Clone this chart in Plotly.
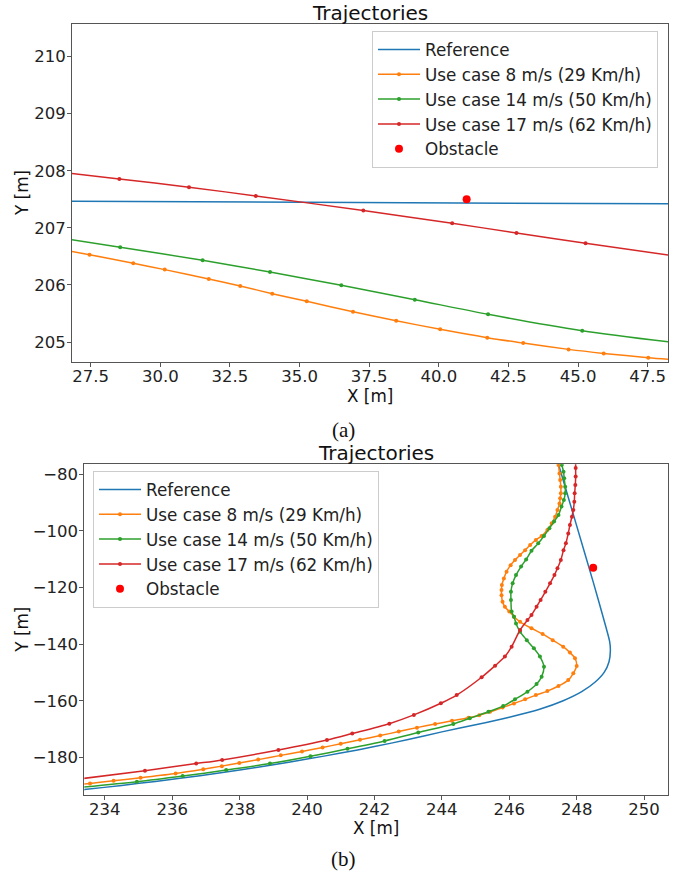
import plotly.graph_objects as go

# ---------------- (a) data ----------------
ref_a_x = [26.0, 49.0]
ref_a_y = [207.467, 207.418]

uc8_a_x = [26.5, 27.46, 29.03, 30.16, 31.74, 32.87, 34.02, 35.26, 36.92, 38.47, 40.05, 41.74, 43.03, 44.66, 45.92, 47.52, 48.7]
uc8_a_y = [206.615, 206.530, 206.379, 206.268, 206.104, 205.981, 205.847, 205.713, 205.531, 205.374, 205.222, 205.076, 204.982, 204.871, 204.801, 204.725, 204.680]

uc14_a_x = [26.5, 28.56, 31.52, 33.94, 36.50, 39.14, 41.77, 45.15, 48.7]
uc14_a_y = [206.818, 206.659, 206.431, 206.227, 205.993, 205.742, 205.485, 205.199, 204.975]

uc17_a_x = [26.5, 28.53, 31.03, 33.43, 37.29, 40.48, 42.79, 45.27, 48.7]
uc17_a_y = [207.972, 207.857, 207.711, 207.559, 207.302, 207.080, 206.910, 206.729, 206.492]

obs_a_x = [41.0]
obs_a_y = [207.5]

# ---------------- (b) data ----------------
ref_b_x = [233.0, 233.39, 234.5, 235.5, 236.82, 238.0, 239.0, 240.0, 241.0, 242.0, 243.0, 244.0, 245.0, 246.0, 246.9, 247.6, 248.15, 248.55, 248.82, 248.96, 249.0, 248.98, 248.88, 248.49, 247.97, 247.40]
ref_b_y = [-191.9, -191.4, -189.9, -188.5, -186.5, -184.5, -182.6, -180.6, -178.5, -176.2, -173.7, -171.0, -168.5, -165.8, -163.0, -160.0, -156.8, -153.4, -149.9, -146.2, -142.3, -139.2, -134.5, -118.0, -97.0, -74.0]

uc8_b_x = [233.0, 233.56, 234.26, 235.06, 236.10, 236.92, 237.47, 237.99, 238.55, 239.22, 239.85, 240.46, 241.00, 241.57, 242.17, 242.72, 243.26, 243.80, 244.30, 244.79, 245.11, 245.43, 245.80, 246.14, 246.47, 246.79, 247.13, 247.46, 247.75, 247.90, 248.00, 247.95, 247.80, 247.60, 247.29, 246.99, 246.66, 246.32, 246.14, 246.00, 245.87, 245.80, 245.77, 245.77, 245.78, 245.84, 245.92, 246.04, 246.17, 246.32, 246.47, 246.62, 246.79, 246.96, 247.13, 247.26, 247.36, 247.43, 247.49, 247.51, 247.53, 247.53, 247.51, 247.49, 247.46, 247.44]
uc8_b_y = [-189.8, -189.2, -188.3, -187.2, -185.7, -184.2, -183.1, -182.0, -180.8, -179.3, -177.9, -176.5, -175.2, -173.8, -172.3, -170.9, -169.5, -168.2, -167.1, -166.0, -165.1, -163.9, -162.4, -161.0, -159.5, -158.0, -156.6, -154.8, -152.7, -150.3, -147.7, -145.0, -143.0, -140.9, -138.6, -136.4, -134.4, -132.1, -130.3, -128.5, -126.8, -125.0, -122.7, -120.9, -119.1, -116.8, -114.4, -112.1, -110.3, -108.5, -106.8, -105.0, -103.2, -101.8, -99.7, -97.3, -95.0, -92.6, -90.3, -88.5, -86.7, -84.4, -82.0, -79.7, -76.7, -74.5]

uc14_b_x = [233.0, 234.95, 236.31, 237.6, 238.9, 240.1, 241.2, 242.3, 243.3, 244.34, 244.83, 245.38, 245.82, 246.17, 246.54, 246.81, 246.96, 247.03, 246.91, 246.73, 246.52, 246.32, 246.20, 246.14, 246.07, 246.05, 246.05, 246.10, 246.20, 246.35, 246.50, 246.66, 246.86, 247.03, 247.19, 247.33, 247.46, 247.55, 247.62, 247.66, 247.66, 247.63, 247.61, 247.56, 247.53]
uc14_b_y = [-190.9, -188.6, -186.6, -184.5, -182.2, -179.6, -177.0, -174.2, -171.2, -168.2, -166.2, -163.9, -161.9, -159.5, -156.8, -154.1, -151.5, -148.0, -144.4, -141.5, -138.6, -135.6, -132.7, -130.3, -128.5, -124.4, -121.5, -118.5, -115.6, -112.6, -110.1, -107.0, -104.4, -101.8, -99.1, -96.7, -94.4, -91.4, -89.1, -86.7, -84.4, -81.4, -79.1, -76.7, -74.5]

uc17_b_x = [233.0, 235.19, 236.71, 237.48, 239.15, 240.59, 241.34, 242.44, 243.17, 243.97, 244.44, 245.18, 245.58, 245.87, 246.07, 246.32, 246.54, 246.66, 246.81, 246.93, 247.07, 247.21, 247.34, 247.43, 247.53, 247.61, 247.68, 247.75, 247.80, 247.86, 247.90, 247.93, 247.94, 247.96, 247.97, 247.97, 247.97]
uc17_b_y = [-188.0, -184.7, -182.2, -180.9, -177.4, -173.9, -171.6, -168.1, -165.0, -160.9, -158.0, -151.7, -147.6, -144.4, -140.9, -135.0, -131.5, -129.7, -126.8, -124.4, -121.5, -118.5, -115.6, -113.2, -110.3, -106.8, -104.4, -100.9, -97.9, -95.0, -92.6, -89.7, -86.7, -83.8, -80.8, -77.8, -74.5]

obs_b_x = [248.49]
obs_b_y = [-113.0]

# ---------------- labels / ticks ----------------
series_names = ["Reference", "Use case 8 m/s (29 Km/h)", "Use case 14 m/s (50 Km/h)",
                "Use case 17 m/s (62 Km/h)", "Obstacle"]
series_colors = ["#1f77b4", "#ff7f0e", "#2ca02c", "#d62728", "#ff0000"]
title_text = "Trajectories"
xlabel = "X [m]"
ylabel = "Y [m]"
captions = ["(a)", "(b)"]

xticks_a = [27.5, 30.0, 32.5, 35.0, 37.5, 40.0, 42.5, 45.0, 47.5]
yticks_a = [205, 206, 207, 208, 209, 210]
xticks_b = [234, 236, 238, 240, 242, 244, 246, 248, 250]
yticks_b = [-80, -100, -120, -140, -160, -180]
yticktext_b = ["\u221280", "\u2212100", "\u2212120", "\u2212140", "\u2212160", "\u2212180"]

W, H = 687, 880
FONT = "DejaVu Sans"


def fx(p):  # window pixel x -> paper fraction
    return p / W


def fy(p):  # window pixel y -> paper fraction
    return 1 - p / H


fig = go.Figure()


def add_panel(xs_list, ys_list, obs, xa, ya, legend):
    for i, (xs, ys) in enumerate(zip(xs_list, ys_list)):
        mode = "lines" if i == 0 else "lines+markers"
        fig.add_trace(go.Scatter(
            x=xs, y=ys, mode=mode, name=series_names[i], xaxis=xa, yaxis=ya,
            legend=legend,
            line=dict(color=series_colors[i], width=1.5, shape="spline", smoothing=0.8),
            marker=dict(size=4, color=series_colors[i]),
        ))
    fig.add_trace(go.Scatter(
        x=obs[0], y=obs[1], mode="markers", name=series_names[4], xaxis=xa, yaxis=ya,
        legend=legend, marker=dict(size=8, color=series_colors[4]),
    ))


add_panel([ref_a_x, uc8_a_x, uc14_a_x, uc17_a_x], [ref_a_y, uc8_a_y, uc14_a_y, uc17_a_y],
          (obs_a_x, obs_a_y), "x", "y", "legend")
add_panel([ref_b_x, uc8_b_x, uc14_b_x, uc17_b_x], [ref_b_y, uc8_b_y, uc14_b_y, uc17_b_y],
          (obs_b_x, obs_b_y), "x2", "y2", "legend2")

# pixel geometry in window coordinates
a_l, a_r, a_t, a_b = 72, 668, 24, 362
b_l, b_r, b_t, b_b = 84.3, 668, 464.3, 795

axis_common = dict(showline=True, mirror=True, linecolor="#555555", linewidth=1,
                   ticks="outside", ticklen=4, tickcolor="#555555", tickwidth=1,
                   showgrid=False, zeroline=False, automargin=False,
                   tickfont=dict(family=FONT, size=16.5, color="#222222"))

legend_common = dict(xanchor="left", yanchor="top",
                     bgcolor="rgba(255,255,255,0.8)", bordercolor="#cccccc", borderwidth=1,
                     font=dict(family=FONT, size=16.8, color="#222222"), itemwidth=42,
                     tracegroupgap=0)

fig.update_layout(
    width=W, height=H, margin=dict(l=0, r=0, t=0, b=0, autoexpand=False),
    paper_bgcolor="white", plot_bgcolor="white", showlegend=True,
    xaxis=dict(domain=[fx(a_l), fx(a_r)], range=[26.83, 48.23], tickvals=xticks_a,
               tickformat=".1f", anchor="y", **axis_common),
    yaxis=dict(domain=[fy(a_b), fy(a_t)], range=[204.65, 210.57], tickvals=yticks_a,
               anchor="x", **axis_common),
    xaxis2=dict(domain=[fx(b_l), fx(b_r)], range=[233.39, 250.71], tickvals=xticks_b,
                anchor="y2", **axis_common),
    yaxis2=dict(domain=[fy(b_b), fy(b_t)], range=[-193.3, -76.47], tickvals=yticks_b,
                ticktext=yticktext_b, anchor="x2", **axis_common),
    legend=dict(x=fx(372), y=fy(31), **legend_common),
    legend2=dict(x=fx(93), y=fy(471), **legend_common),
)

try:
    fig.update_xaxes(ticklabelstandoff=-5)
    fig.update_yaxes(ticklabelstandoff=-2)
except Exception:
    pass

annots = [
    dict(text=title_text, x=fx((a_l + a_r) / 2), y=fy(13), size=20, family=FONT),
    dict(text=title_text, x=fx((b_l + b_r) / 2), y=fy(453), size=20, family=FONT),
    dict(text=xlabel, x=fx((a_l + a_r) / 2), y=fy(396), size=16.8, family=FONT),
    dict(text=xlabel, x=fx((b_l + b_r) / 2), y=fy(828), size=16.8, family=FONT),
    dict(text=captions[0], x=fx(343), y=fy(430), size=21, family="Liberation Serif"),
    dict(text=captions[1], x=fx(343), y=fy(859), size=21, family="Liberation Serif"),
]
for a in annots:
    fig.add_annotation(text=a["text"], xref="paper", yref="paper", x=a["x"], y=a["y"],
                       xanchor="center", yanchor="middle", showarrow=False,
                       font=dict(family=a["family"], size=a["size"], color="#111111"))
for yc in [(a_t + a_b) / 2, (b_t + b_b) / 2]:
    fig.add_annotation(text=ylabel, xref="paper", yref="paper", x=fx(22), y=fy(yc),
                       xanchor="center", yanchor="middle", showarrow=False, textangle=-90,
                       font=dict(family=FONT, size=16.8, color="#111111"))

# the page body normally has an 8px margin; remove it so the figure fills the window
fig.write_html("out.html", config={"displayModeBar": False},
               post_script="document.body.style.margin='0';")
